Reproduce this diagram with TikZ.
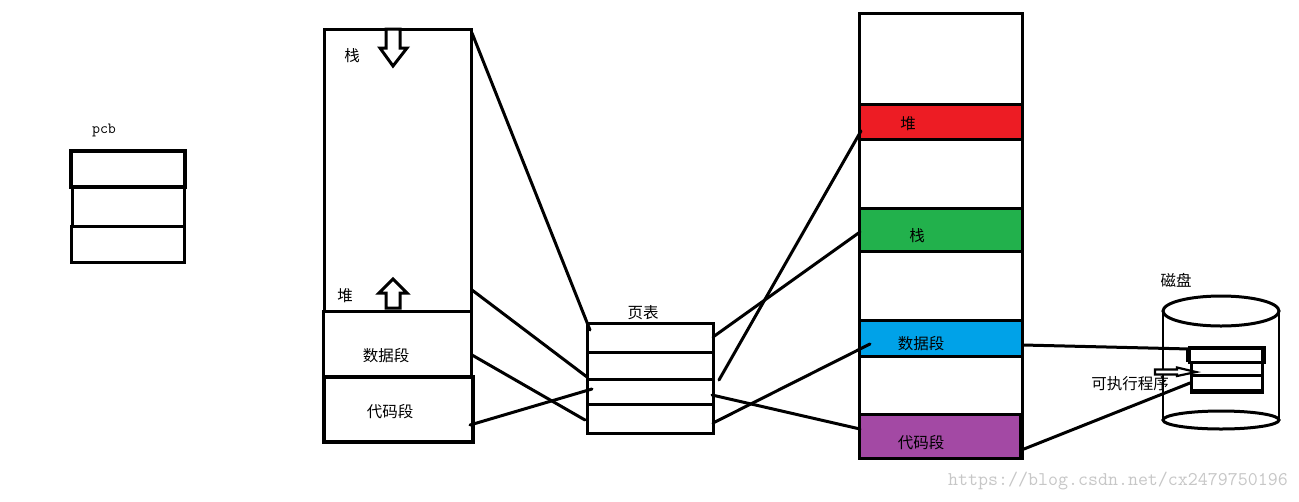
\documentclass[tikz,border=0pt]{standalone}
\usepackage{fontspec}
\newfontfamily\cjk{Noto Sans CJK SC}
\usetikzlibrary{calc,shapes.geometric}
\definecolor{cred}{HTML}{ED1C24}
\definecolor{cgreen}{HTML}{22B14C}
\definecolor{cblue}{HTML}{00A2E8}
\definecolor{cpurple}{HTML}{A349A4}
\tikzset{
  ln/.style={line width=3pt,black,line cap=round},
  lbl/.style={font=\cjk\fontsize{15.5}{16}\selectfont,text=black,inner sep=0pt},
  bar/.style={rectangle,draw=black,line width=3pt,inner sep=0pt,outer sep=0pt},
  diskell/.style={draw=black,line width=3pt,ellipse,inner sep=0pt,outer sep=0pt},
}
\newcommand{\boxn}[6][]{\node[bar,#1,minimum width=#4-#3,minimum height=#6-#5,anchor=north west] (#2) at (#3,#5) {};}
\begin{document}
\begin{tikzpicture}[x=1pt,y=-1pt]
\useasboundingbox (0,0) rectangle (1299,501);
\fill[white] (0,0) rectangle (1299,501);

% PCB
\node[font=\ttfamily\fontsize{15.5}{16}\selectfont,inner sep=0pt] (pcblabel) at (104,130) {pcb};
\boxn[line width=3.6pt]{pcbA}{71}{185}{151}{187}
\boxn{pcbB}{72}{184}{187}{226}
\boxn{pcbC}{71}{184}{226}{262}

% Virtual address space
\boxn{stackbox}{324}{471}{29}{311}
\boxn{databox}{323}{471}{311}{376}
\boxn[line width=3.6pt]{codebox}{324}{473}{377}{442}
\draw[line width=1.5pt] (323,311) -- (323,376);
\draw[line width=1.5pt] (472.5,377) -- (472.5,442);
\node[lbl] (zhan) at (352,56) {栈};
\node[lbl] (dui) at (345,296) {堆};
\node[lbl] (shuju) at (386,356) {数据段};
\node[lbl] (daima) at (390,412) {代码段};
\draw[line width=3pt,fill=white] (386,29) -- (400,29) -- (400,48) -- (407,48) -- (393,66) -- (380,48) -- (386,48) -- cycle;
\draw[line width=3pt,fill=white] (386,308) -- (400,308) -- (400,293) -- (407,293) -- (393,279) -- (379,293) -- (386,293) -- cycle;

% Page table
\node[lbl] (pagelabel) at (643,313) {页表};
\boxn{ptA}{587}{713}{323}{352}
\boxn{ptB}{587}{713}{352}{379}
\boxn{ptC}{587}{713}{379}{404}
\boxn{ptD}{587}{713}{404}{433}

% Physical memory
\boxn{phys}{859}{1022}{13}{458}
\node[bar,fill=cred,minimum width=163,minimum height=35,anchor=north west] (red) at (859,104) {};
\node[bar,fill=cgreen,minimum width=163,minimum height=43,anchor=north west] (green) at (859,208) {};
\node[bar,fill=cblue,minimum width=163,minimum height=36,anchor=north west] (blue) at (859,320) {};
\node[bar,fill=cpurple,minimum width=161,minimum height=44,anchor=north west] (purple) at (859,414) {};
\draw[line width=4pt] (1021,414) -- (1021,458);
\node[lbl] (pdui) at (908,124) {堆};
\node[lbl] (pzhan) at (917,236) {栈};
\node[lbl] (pshuju) at (921,344) {数据段};
\node[lbl] (pdaima) at (921,443) {代码段};

% Disk
\node[lbl] (disklabel) at (1176,280) {磁盘};
\node[diskell,minimum width=116,minimum height=18] (diskbot) at (1221,420) {};
\node[diskell,minimum width=116,minimum height=30] (disktop) at (1221,311) {};
\draw[line width=2.6pt] (disktop.west) -- (diskbot.west);
\draw[line width=2.6pt] (disktop.east) -- (diskbot.east);

% Executable
\boxn[line width=3pt]{exA}{1189}{1264}{347}{362}
\boxn{exB}{1191}{1262}{362}{375}
\boxn{exC}{1191}{1262}{375}{392}
\draw[line width=3.6pt] (1188,347.5) -- (1188,362) (1263,347.5) -- (1263,362) (1188,348) -- (1264,348);
\draw[line width=4pt] (1190,391) -- (1263,391);
\draw[line width=2.2pt,fill=white] (1155,369.5) -- (1177,369.5) -- (1177,367.5) -- (1196,372) -- (1177,376) -- (1177,374.5) -- (1155,374.5) -- cycle;
\node[lbl] (exlabel) at (1130,384) {可执行程序};

% Connector ends
\coordinate (a1) at (472,33); \coordinate (a2) at (590,330);
\coordinate (b1) at (472,290); \coordinate (b2) at (587,377);
\coordinate (c1) at (472,355); \coordinate (c2) at (585,420);
\coordinate (d1) at (470,425); \coordinate (d2) at (592,389);
\coordinate (e1) at (713,337); \coordinate (e2) at (860,232);
\coordinate (f1) at (719,380); \coordinate (f2) at (861,131);
\coordinate (g1) at (712,395); \coordinate (g2) at (860,429);
\coordinate (h1) at (713,423); \coordinate (h2) at (870,344);
\coordinate (i1) at (1023,345); \coordinate (i2) at (1190,349);
\coordinate (j1) at (1024,449); \coordinate (j2) at (1190,383);
\foreach \p in {a,b,c,d,e,f,g,h,i,j} {\draw[ln] (\p1) -- (\p2);}

% Watermark
\node[font=\ttfamily\fontsize{19.4}{20}\selectfont,text=black!22,inner sep=0pt,anchor=east] (wm) at (1288,481) {https://blog.csdn.net/cx2479750196};
\end{tikzpicture}
\end{document}
